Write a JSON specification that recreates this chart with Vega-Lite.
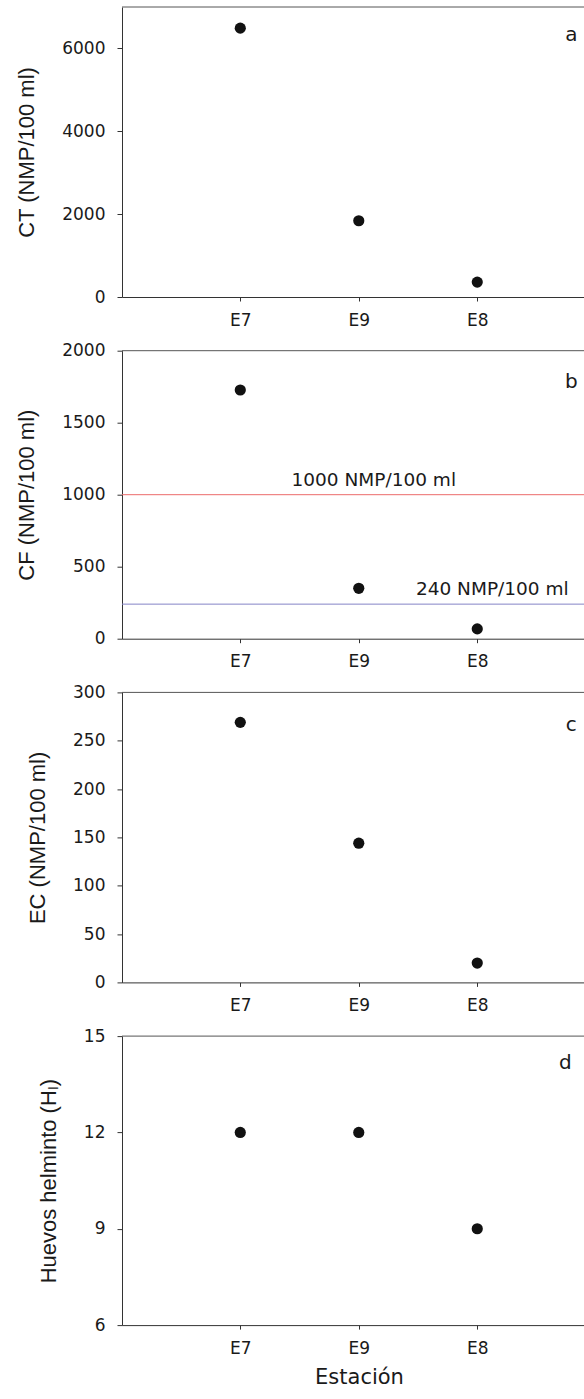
{
  "$schema": "https://vega.github.io/schema/vega-lite/v6.json",
  "background": "#ffffff",
  "padding": {"left": 15, "top": 6, "right": 0, "bottom": 5},
  "autosize": {"type": "pad"},
  "datasets": {
    "muestras": [
      {"estacion": "E7", "parametro": "CT", "valor": 6490},
      {"estacion": "E9", "parametro": "CT", "valor": 1840},
      {"estacion": "E8", "parametro": "CT", "valor": 360},
      {"estacion": "E7", "parametro": "CF", "valor": 1727},
      {"estacion": "E9", "parametro": "CF", "valor": 350},
      {"estacion": "E8", "parametro": "CF", "valor": 68},
      {"estacion": "E7", "parametro": "EC", "valor": 269},
      {"estacion": "E9", "parametro": "EC", "valor": 144},
      {"estacion": "E8", "parametro": "EC", "valor": 20},
      {"estacion": "E7", "parametro": "HL", "valor": 12},
      {"estacion": "E9", "parametro": "HL", "valor": 12},
      {"estacion": "E8", "parametro": "HL", "valor": 9}
    ],
    "limites": [
      {"valor": 1000, "etiqueta": "1000 NMP/100 ml", "estacion": "E9"},
      {"valor": 240, "etiqueta": "240 NMP/100 ml", "estacion": "E8"}
    ]
  },
  "config": {
    "view": {"stroke": null},
    "font": "DejaVu Sans",
    "axis": {
      "grid": false,
      "domainColor": "#333333",
      "tickColor": "#333333",
      "labelColor": "#1a1a1a",
      "titleColor": "#1a1a1a",
      "labelFont": "DejaVu Sans",
      "labelFontSize": 17,
      "titleFontWeight": "normal"
    },
    "axisY": {
      "tickSize": 5,
      "labelPadding": 12,
      "format": "d",
      "titleFont": "Liberation Sans",
      "titleFontSize": 22,
      "titlePadding": 23
    },
    "axisX": {
      "tickSize": 4,
      "labelAngle": 0,
      "labelPadding": 11,
      "titleFont": "DejaVu Sans",
      "titleFontSize": 21,
      "titlePadding": 10
    },
    "text": {"font": "DejaVu Sans", "color": "#1a1a1a"}
  },
  "spacing": 53.7,
  "bounds": "flush",
  "vconcat": [
    {
      "width": 464,
      "height": 290,
      "layer": [
        {
          "data": {"name": "muestras"},
          "transform": [{"filter": "datum.parametro === 'CT'"}],
          "mark": {"type": "circle", "size": 125, "opacity": 1, "color": "#111111"},
          "encoding": {
            "x": {"field": "estacion", "type": "ordinal", "scale": {"type": "point", "domain": ["E7", "E9", "E8"], "padding": 0.958, "align": 0.521}, "axis": {"title": null}},
            "y": {"field": "valor", "type": "quantitative", "scale": {"domain": [0, 7000], "nice": false}, "axis": {"title": "CT (NMP/100 ml)", "values": [0, 2000, 4000, 6000]}}
          }
        },
        {
          "data": {"values": [{}]},
          "mark": {"type": "rule", "color": "#555555", "strokeWidth": 1},
          "encoding": {"y": {"datum": 7000}}
        },
        {
          "data": {"values": [{}]},
          "mark": {"type": "text", "fontSize": 20, "dx": 94, "dy": 34, "baseline": "alphabetic", "align": "center"},
          "encoding": {"x": {"datum": "E8"}, "y": {"datum": 7000}, "text": {"value": "a"}}
        }
      ]
    },
    {
      "width": 464,
      "height": 288,
      "layer": [
        {
          "data": {"name": "limites"},
          "mark": {"type": "rule", "strokeWidth": 1},
          "encoding": {
            "y": {"field": "valor", "type": "quantitative"},
            "color": {"field": "etiqueta", "type": "nominal", "scale": {"domain": ["1000 NMP/100 ml", "240 NMP/100 ml"], "range": ["#ec6a6a", "#8583c6"]}, "legend": null}
          }
        },
        {
          "data": {"name": "limites"},
          "mark": {"type": "text", "fontSize": 18.5, "dx": 15, "dy": -9, "baseline": "alphabetic", "align": "center"},
          "encoding": {
            "x": {"field": "estacion", "type": "ordinal"},
            "y": {"field": "valor", "type": "quantitative"},
            "text": {"field": "etiqueta"}
          }
        },
        {
          "data": {"name": "muestras"},
          "transform": [{"filter": "datum.parametro === 'CF'"}],
          "mark": {"type": "circle", "size": 125, "opacity": 1, "color": "#111111"},
          "encoding": {
            "x": {"field": "estacion", "type": "ordinal", "scale": {"type": "point", "domain": ["E7", "E9", "E8"], "padding": 0.958, "align": 0.521}, "axis": {"title": null}},
            "y": {"field": "valor", "type": "quantitative", "scale": {"domain": [0, 2000], "nice": false}, "axis": {"title": "CF (NMP/100 ml)", "values": [0, 500, 1000, 1500, 2000]}}
          }
        },
        {
          "data": {"values": [{}]},
          "mark": {"type": "rule", "color": "#555555", "strokeWidth": 1},
          "encoding": {"y": {"datum": 2000}}
        },
        {
          "data": {"values": [{}]},
          "mark": {"type": "text", "fontSize": 20, "dx": 94, "dy": 37, "baseline": "alphabetic", "align": "center"},
          "encoding": {"x": {"datum": "E8"}, "y": {"datum": 2000}, "text": {"value": "b"}}
        }
      ]
    },
    {
      "width": 464,
      "height": 290,
      "layer": [
        {
          "data": {"name": "muestras"},
          "transform": [{"filter": "datum.parametro === 'EC'"}],
          "mark": {"type": "circle", "size": 125, "opacity": 1, "color": "#111111"},
          "encoding": {
            "x": {"field": "estacion", "type": "ordinal", "scale": {"type": "point", "domain": ["E7", "E9", "E8"], "padding": 0.958, "align": 0.521}, "axis": {"title": null}},
            "y": {"field": "valor", "type": "quantitative", "scale": {"domain": [0, 300], "nice": false}, "axis": {"title": "EC (NMP/100 ml)", "values": [0, 50, 100, 150, 200, 250, 300]}}
          }
        },
        {
          "data": {"values": [{}]},
          "mark": {"type": "rule", "color": "#555555", "strokeWidth": 1},
          "encoding": {"y": {"datum": 300}}
        },
        {
          "data": {"values": [{}]},
          "mark": {"type": "text", "fontSize": 20, "dx": 94, "dy": 39, "baseline": "alphabetic", "align": "center"},
          "encoding": {"x": {"datum": "E8"}, "y": {"datum": 300}, "text": {"value": "c"}}
        }
      ]
    },
    {
      "width": 464,
      "height": 289,
      "layer": [
        {
          "data": {"name": "muestras"},
          "transform": [{"filter": "datum.parametro === 'HL'"}],
          "mark": {"type": "circle", "size": 125, "opacity": 1, "color": "#111111"},
          "encoding": {
            "x": {"field": "estacion", "type": "ordinal", "scale": {"type": "point", "domain": ["E7", "E9", "E8"], "padding": 0.958, "align": 0.521}, "axis": {"title": "Estación", "titleX": 237}},
            "y": {"field": "valor", "type": "quantitative", "scale": {"domain": [6, 15], "nice": false, "zero": false}, "axis": {"title": "Huevos helminto (Hₗ)", "values": [6, 9, 12, 15]}}
          }
        },
        {
          "data": {"values": [{}]},
          "mark": {"type": "rule", "color": "#555555", "strokeWidth": 1},
          "encoding": {"y": {"datum": 15}}
        },
        {
          "data": {"values": [{}]},
          "mark": {"type": "text", "fontSize": 20, "dx": 88, "dy": 33, "baseline": "alphabetic", "align": "center"},
          "encoding": {"x": {"datum": "E8"}, "y": {"datum": 15}, "text": {"value": "d"}}
        }
      ]
    }
  ]
}
